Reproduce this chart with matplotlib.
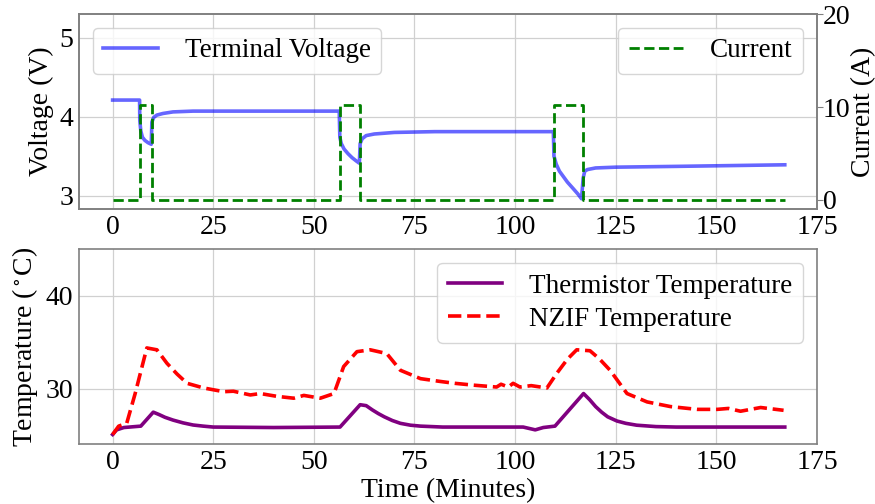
import matplotlib
matplotlib.use("Agg")
import matplotlib.pyplot as plt

plt.rcParams['font.family'] = ['Liberation Serif', 'DejaVu Serif']
plt.rcParams['mathtext.fontset'] = 'stix'
plt.rcParams['font.size'] = 20

# Terminal voltage
t_v = [0, 6.7, 6.75, 7.0, 7.4, 8.0, 8.8, 9.6, 9.75, 10.2, 11, 12.5, 15, 20, 30, 56.3,
       56.45, 56.8, 57.5, 58.5, 59.5, 60.5, 61.3, 61.5, 62, 63, 65, 70, 80, 109.5,
       109.65, 110.2, 111, 112, 113, 114.4, 115.6, 116.5, 116.9, 117.3, 118, 120, 125, 140, 167]
volt = [4.21, 4.21, 3.95, 3.82, 3.74, 3.70, 3.67, 3.65, 3.93, 3.99, 4.02, 4.04, 4.06, 4.07, 4.07, 4.07,
        3.74, 3.66, 3.59, 3.53, 3.48, 3.44, 3.41, 3.66, 3.72, 3.76, 3.78, 3.80, 3.81, 3.81,
        3.50, 3.40, 3.31, 3.24, 3.17, 3.09, 3.02, 2.96, 3.22, 3.31, 3.33, 3.35, 3.36, 3.37, 3.39]

# Current
t_i = [0, 6.7, 6.7, 9.7, 9.7, 56.4, 56.4, 61.4, 61.4, 109.6, 109.6, 116.9, 116.9, 167]
curr = [0, 0, 10.2, 10.2, 0, 0, 10.2, 10.2, 0, 0, 10.2, 10.2, 0, 0]

# Thermistor temperature
t_th = [0, 1, 2.8, 7, 10.1, 11.5, 13, 15, 17.5, 20, 22.5, 25, 40, 56.5, 61.5, 63, 64.5, 66, 67.5,
        69.5, 71.5, 74, 76.5, 82, 102, 105, 107, 109.9, 117, 118.5, 120, 121.5, 123, 125.3, 127.5,
        130.2, 135, 140, 167]
therm = [25.1, 25.6, 25.85, 26.0, 27.5, 27.25, 26.95, 26.65, 26.35, 26.12, 26.0, 25.9, 25.85, 25.9,
         28.3, 28.2, 27.75, 27.35, 27.0, 26.6, 26.3, 26.1, 26.0, 25.9, 25.9, 25.6, 25.85, 26.0,
         29.5, 28.85, 28.1, 27.5, 27.0, 26.55, 26.3, 26.1, 25.95, 25.9, 25.9]

# NZIF temperature
t_nz = [0, 1.5, 3.5, 5.6, 8.5, 11, 13.5, 16, 18.5, 22.6, 25.1, 27.6, 30, 34.2, 36.7, 40.8, 45, 47.5,
        51.6, 55, 57.4, 60.7, 64, 68.1, 71.5, 76.5, 81.4, 85, 89.7, 95.4, 96.5, 98.3, 99.5, 101.2,
        104, 107.9, 110.4, 113, 115.3, 118.6, 121, 123.6, 127.8, 132.8, 138.6, 145.2, 150.2, 153,
        156, 161, 166.7]
nzif = [25.1, 26.0, 26.3, 29.5, 34.4, 34.2, 32.75, 31.6, 30.6, 30.1, 29.9, 29.7, 29.75, 29.35, 29.5,
        29.2, 29.0, 29.3, 29.0, 29.5, 32.4, 34.0, 34.2, 33.8, 32.0, 31.1, 30.8, 30.6, 30.4, 30.2,
        30.5, 30.2, 30.6, 30.2, 30.35, 30.1, 31.7, 33.2, 34.2, 34.1, 33.2, 32.0, 29.5, 28.6, 28.1,
        27.8, 27.8, 27.9, 27.6, 28.0, 27.7]

fig = plt.figure(figsize=(8.75, 5.04), dpi=100)
ax1 = fig.add_axes([0.0903, 0.5853, 0.8434, 0.3869])
ax3 = fig.add_axes([0.0903, 0.1185, 0.8434, 0.3869])

spine_col = '#808080'
for ax in (ax1, ax3):
    ax.grid(True, color='#d0d0d0', linewidth=0.9)
    ax.set_axisbelow(True)
    for s in ax.spines.values():
        s.set_color(spine_col)
        s.set_linewidth(1.2)
    ax.tick_params(length=0, pad=4)
    ax.set_xlim(-8.35, 175)
    ax.set_xticks([0, 25, 50, 75, 100, 125, 150, 175])

lv, = ax1.plot(t_v, volt, color='blue', alpha=0.6, linewidth=2.6, label='Terminal Voltage')
ax1.set_ylim(2.83, 5.3)
ax1.set_yticks([3, 4, 5])
ax1.set_ylabel('Voltage (V)')

ax2 = ax1.twinx()
li, = ax2.plot(t_i, curr, 'g--', linewidth=2, label='Current')
ax2.set_ylim(-1, 20.05)
ax2.set_yticks([0, 10, 20])
ax2.set_ylabel('Current (A)', labelpad=1)
ax2.tick_params(length=4, color=spine_col, pad=0)
for s in ax2.spines.values():
    s.set_color(spine_col)
    s.set_linewidth(1.2)

leg_kw = dict(fontsize=19.5, borderaxespad=0.5, borderpad=0.4, handletextpad=1.0)
ax1.legend(handles=[lv], loc='upper left', **leg_kw)
ax2.legend(handles=[li], loc='upper right', **leg_kw)

ax3.plot(t_th, therm, color='purple', linewidth=2.6, label='Thermistor Temperature')
ax3.plot(t_nz, nzif, 'r--', linewidth=2.6, label='NZIF Temperature')
ax3.set_ylim(24.05, 45)
ax3.set_yticks([30, 40])
ax3.set_ylabel(r'Temperature ($^\circ$C)')
ax3.set_xlabel('Time (Minutes)', labelpad=2)
ax3.legend(loc='upper right', labelspacing=0.3, **leg_kw)

fig.savefig('out.png', dpi=100)
